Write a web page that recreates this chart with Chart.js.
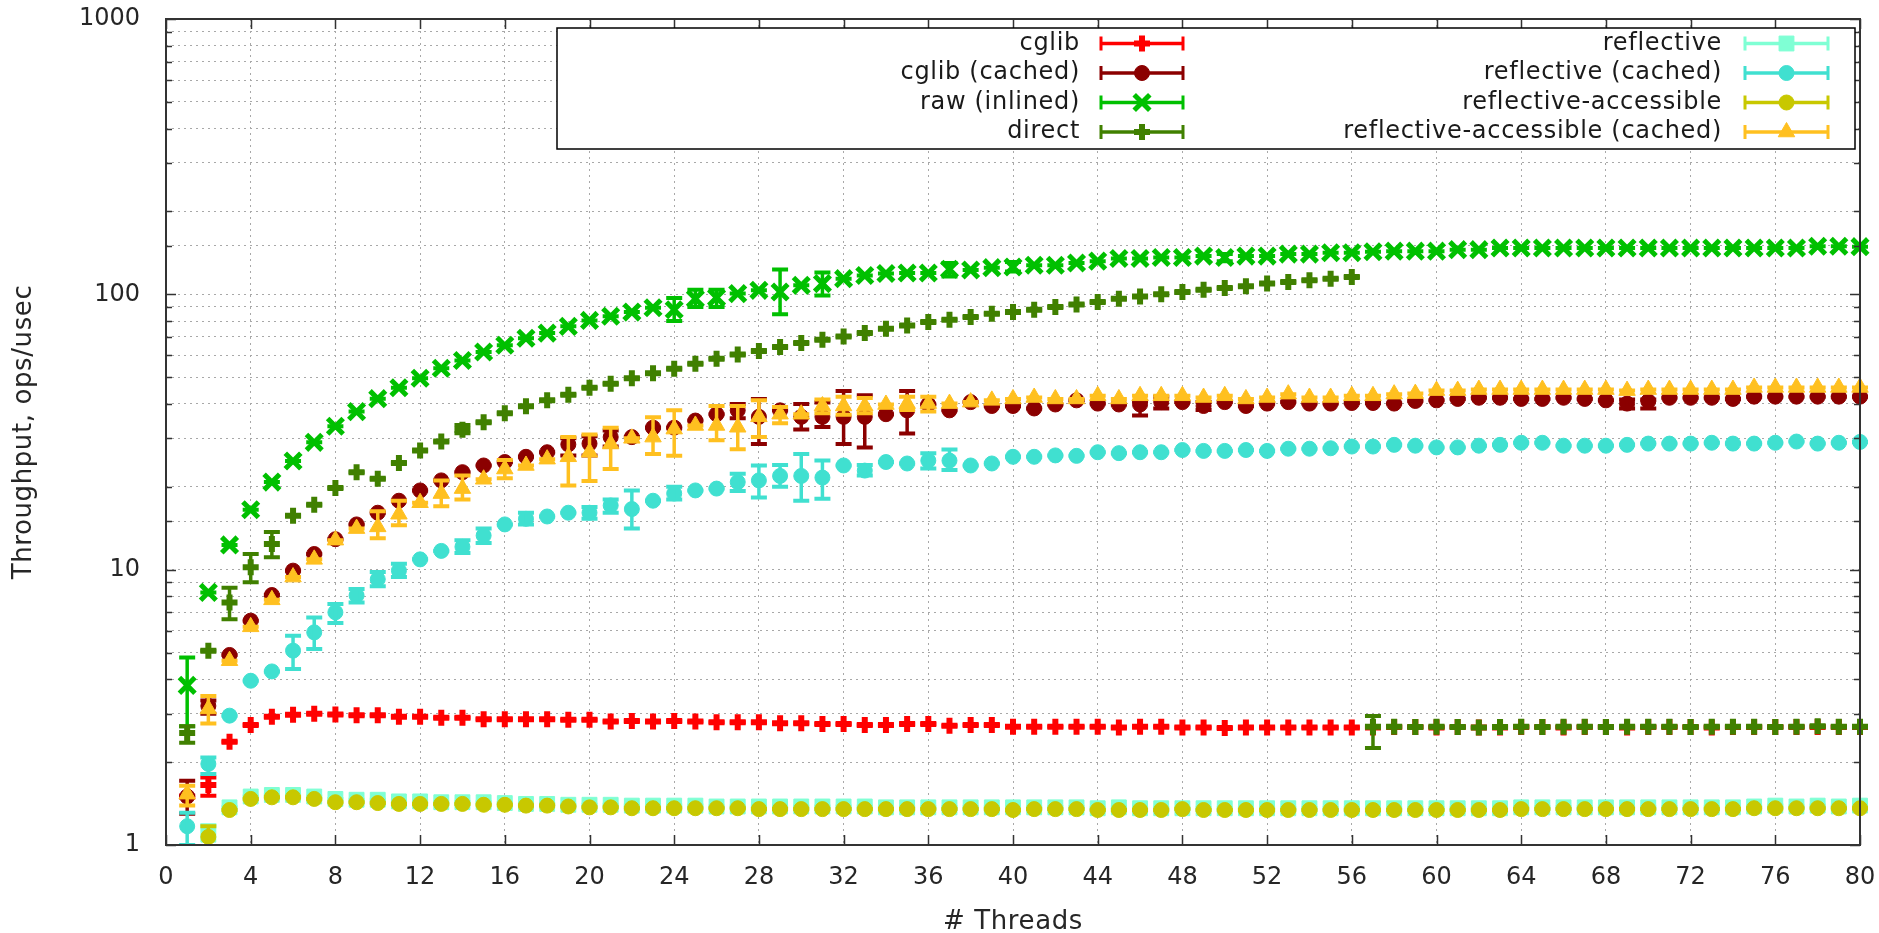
<!DOCTYPE html>
<html><head><meta charset="utf-8">
<script src="https://cdn.jsdelivr.net/npm/chart.js@4.4.1/dist/chart.umd.min.js"></script>
<style>html,body{margin:0;padding:0;background:#fff;}canvas{display:block;}</style>
</head><body>
<canvas id="c" width="1879" height="933"></canvas>
<script>
const threads = [1,2,3,4,5,6,7,8,9,10,11,12,13,14,15,16,17,18,19,20,21,22,23,24,25,26,27,28,29,30,31,32,33,34,35,36,37,38,39,40,41,42,43,44,45,46,47,48,49,50,51,52,53,54,55,56,57,58,59,60,61,62,63,64,65,66,67,68,69,70,71,72,73,74,75,76,77,78,79,80];
const xTicks = [0,4,8,12,16,20,24,28,32,36,40,44,48,52,56,60,64,68,72,76,80];
const yLabels = [1,10,100,1000];

const cglib = [1.5,1.65,2.37,2.73,2.92,2.97,3.0,2.98,2.96,2.96,
 2.92,2.92,2.9,2.9,2.86,2.86,2.86,2.86,2.85,2.85,
 2.81,2.82,2.81,2.82,2.81,2.79,2.79,2.79,2.77,2.77,
 2.75,2.75,2.73,2.73,2.75,2.75,2.71,2.73,2.73,2.69,
 2.69,2.69,2.69,2.69,2.67,2.69,2.69,2.67,2.67,2.66,
 2.67,2.67,2.67,2.67,2.67,2.67,2.67,2.68,2.68,2.67,
 2.68,2.67,2.67,2.68,2.68,2.67,2.68,2.68,2.67,2.68,
 2.68,2.68,2.67,2.68,2.68,2.68,2.68,2.68,2.68,2.68];
const cglibCached = [1.5,3.2,4.9,6.53,8.09,9.92,11.4,12.9,14.6,16.1,
 17.8,19.4,21.1,22.6,23.9,24.6,25.7,26.7,28.5,28.7,
 30.3,30.3,32.8,32.8,34.8,36.7,37.9,35.9,37.9,35.9,
 35.9,35.9,35.9,36.7,37.9,39.8,37.9,40.6,39.3,39.3,
 38.5,39.8,41.2,40.1,39.8,39.8,40.6,40.6,39.3,40.6,
 39.3,40.1,40.6,40.1,40.1,40.3,40.3,40.1,41.0,41.2,
 41.7,42.1,42.1,41.7,41.7,42.1,41.7,41.2,40.1,40.9,
 42.1,42.1,42.1,41.7,42.5,42.5,42.5,42.5,42.5,42.5];
const rawInlined = [3.8,8.27,12.3,16.5,20.8,24.8,29.0,33.2,37.5,41.8,
 45.8,49.6,53.9,57.5,61.7,65.3,69.3,72.3,76.5,80.4,
 83.3,86.2,89.4,87.9,96.4,97.3,100.6,103.4,102,107.8,
 109.4,114,117,119,119.5,119.5,123.4,122.5,125,125.7,
 127.5,127.5,130,132,134.9,134.9,136,136,137.7,136,
 137.7,137.7,140,140,141.6,141.6,142.8,143.5,143.5,143.5,
 145.3,145.3,147.3,147.3,147.3,147.3,147.3,147.3,147.3,147.3,
 147.3,147.3,147.3,147.3,147.3,147.3,147.3,149.5,149.5,149];
const direct = [2.55,5.08,7.6,10.2,12.4,15.7,17.2,19.8,22.6,21.4,
 24.4,27.1,29.2,32.2,34.3,37.0,39.2,41.2,43.2,45.8,
 47.3,49.6,51.7,53.7,56,58.4,60.5,62.2,64.4,66.5,
 68.4,70.3,72.3,75,77.1,79.3,80.9,82.7,85.1,86.2,
 87.9,90,91.9,93.8,96.4,98.3,100,102,104,105.4,
 107,109.4,110.9,112.5,114,115.6,2.69,2.69,2.68,2.69,
 2.68,2.67,2.68,2.69,2.68,2.69,2.69,2.68,2.69,2.69,
 2.69,2.68,2.69,2.69,2.69,2.68,2.69,2.70,2.69,2.69];
const reflective = [null,1.09,1.37,1.5,1.52,1.52,1.5,1.47,1.46,1.46,
 1.44,1.44,1.43,1.43,1.43,1.42,1.41,1.41,1.4,1.4,
 1.4,1.39,1.39,1.39,1.39,1.38,1.38,1.38,1.38,1.38,
 1.38,1.38,1.38,1.37,1.37,1.37,1.37,1.37,1.37,1.37,
 1.37,1.37,1.37,1.36,1.37,1.36,1.36,1.36,1.36,1.36,
 1.36,1.36,1.36,1.36,1.36,1.36,1.36,1.36,1.36,1.36,
 1.36,1.36,1.36,1.37,1.37,1.37,1.37,1.37,1.37,1.37,
 1.37,1.37,1.37,1.37,1.38,1.39,1.38,1.39,1.38,1.39];
const reflectiveCached = [1.17,1.97,2.95,3.95,4.27,5.08,5.92,7.0,8.06,9.23,
 9.92,10.9,11.7,12.1,13.3,14.6,15.3,15.6,16.1,16.1,
 17.1,16.6,17.8,18.9,19.4,19.7,20.8,21.1,21.9,21.9,
 21.6,23.9,22.9,24.6,24.3,24.9,24.9,23.9,24.3,25.7,
 25.7,26.0,25.9,26.7,26.5,26.7,26.7,27.2,27.0,27.0,
 27.2,27.0,27.5,27.5,27.6,28.0,28.0,28.4,28.2,27.8,
 27.8,28.2,28.4,28.9,28.9,28.2,28.2,28.2,28.4,28.7,
 28.7,28.7,28.9,28.7,28.7,28.9,29.2,28.7,28.9,29.1];
const reflAccessible = [null,1.07,1.34,1.47,1.49,1.49,1.47,1.43,1.43,1.42,
 1.41,1.41,1.41,1.41,1.4,1.4,1.39,1.39,1.38,1.37,
 1.37,1.36,1.36,1.36,1.36,1.36,1.36,1.35,1.35,1.35,
 1.35,1.35,1.35,1.35,1.35,1.35,1.35,1.35,1.35,1.34,
 1.35,1.35,1.35,1.34,1.34,1.34,1.34,1.35,1.34,1.34,
 1.34,1.34,1.34,1.34,1.34,1.34,1.34,1.34,1.34,1.34,
 1.34,1.34,1.34,1.35,1.35,1.35,1.35,1.35,1.35,1.35,
 1.35,1.35,1.35,1.35,1.36,1.36,1.36,1.36,1.36,1.36];
const reflAccessibleCached = [1.53,3.12,4.67,6.2,7.77,9.4,10.9,12.8,14.1,14.3,
 15.9,17.5,18.9,19.7,21.3,23.2,23.9,25.2,25.7,26.7,
 28.6,30,30.3,32.4,33.4,33.4,32.9,35.9,36.7,36.7,
 39.3,39.3,39.3,39.8,40.1,40.1,40.1,40.6,41.2,41.7,
 42.2,41.7,41.7,42.8,41.7,42.8,42.8,42.8,42.2,42.8,
 41.7,42.2,43.4,42.2,42.2,42.8,42.8,43.4,43.6,44.7,
 44.7,45.1,45.1,45.1,45.1,45.1,45.1,45.1,44.7,45.1,
 45.1,45.1,45.1,45.1,45.9,45.9,45.9,45.9,45.9,45.9];

// visible error bars: thread -> [low, high]
const cglibErr = {2:[1.51,1.76]};
const cglibCachedErr = {1:[1.3,1.71],2:[3.0,3.35],19:[26,30],20:[26,30.5],21:[28,32],27:[35.5,40],28:[28.6,41.7],30:[32.3,40],31:[33,40.5],32:[28.6,44.6],33:[27.8,43],35:[31.2,44.6],46:[36.3,41],47:[38.5,42.5],49:[38,40.6],69:[38.5,41.5],70:[38.5,41.5]};
const rawErr = {1:[2.7,4.8],24:[80,97],25:[90,104],26:[90,104],29:[84.6,123],31:[99,120],37:[116,130],40:[121,131],50:[132,140]};
const directErr = {1:[2.35,2.7],3:[6.6,8.6],4:[9.0,11.4],5:[11.1,13.7],14:[31.3,33.5],57:[2.25,2.94]};
const reflErr = {2:[0.98,1.18]};
const reflCachedErr = {1:[1.0,1.31],2:[1.81,2.08],6:[4.36,5.75],7:[5.15,6.7],8:[6.4,7.5],9:[7.6,8.5],10:[8.7,9.8],11:[9.4,10.5],14:[11.5,12.8],15:[12.5,14.1],17:[14.6,16.1],20:[15.3,16.9],21:[16.1,18],22:[14.1,19.4],24:[18,20],27:[19.3,22.3],28:[18.3,23.9],29:[20,24],30:[17.8,26.3],31:[18.1,24.9],33:[22,24],36:[23.3,26.5],37:[23,27.3]};
const raErr = {2:[0.97,1.17]};
const raCachedErr = {1:[1.39,1.64],2:[2.76,3.48],10:[13.0,16.3],11:[14.5,17.8],13:[17.0,21.1],14:[18,22],16:[21.5,25],19:[20.2,30.3],20:[21,31],21:[23.2,32.8],23:[26.3,35.8],24:[25.9,37.9],26:[29.5,39.3],27:[27.4,39.3],28:[30.3,41.2],29:[34,39],31:[37,41.5],32:[36.5,42.5],33:[37,42],35:[38,42.5],36:[37.5,42.5]};

const names = ['cglib','cglib (cached)','raw (inlined)','direct','reflective','reflective (cached)','reflective-accessible','reflective-accessible (cached)'];
const valueSets = [cglib,cglibCached,rawInlined,direct,reflective,reflectiveCached,reflAccessible,reflAccessibleCached];
const errSets = [cglibErr,cglibCachedErr,rawErr,directErr,reflErr,reflCachedErr,raErr,raCachedErr];
const colors = ['#ff0000','#8b0000','#00c000','#408000','#7fffd4','#40e0d0','#c8c800','#ffc020'];
const styles = [
  {s:'cross',r:8,bw:6},{s:'circle',r:7.5,bw:1},{s:'crossRot',r:11,bw:5},{s:'cross',r:8,bw:6},
  {s:'rect',r:10.5,bw:1},{s:'circle',r:7.5,bw:1},{s:'circle',r:7.5,bw:1},{s:'triangle',r:9.5,bw:1}
];

const FONT = 'DejaVu Sans';
Chart.defaults.font.family = FONT;

const datasets = names.map((name, i) => {
  const vals = valueSets[i], err = errSets[i];
  const data = [];
  threads.forEach((t, k) => {
    if (vals[k] == null) return;
    const e = err[t];
    data.push({x: t, y: vals[k], lo: e ? e[0] : vals[k], hi: e ? e[1] : vals[k]});
  });
  return {
    label: name, data, order: names.length - i,
    showLine: false,
    pointStyle: styles[i].s, pointRadius: styles[i].r, pointBorderWidth: styles[i].bw,
    pointHoverRadius: styles[i].r,
    backgroundColor: colors[i], borderColor: colors[i],
    clip: {left: 20, top: 20, right: 20, bottom: 6}
  };
});

const errorBars = {
  id: 'errorBars',
  afterDatasetDraw(chart, args) {
    const ds = chart.data.datasets[args.index];
    const xs = chart.scales.x, ys = chart.scales.y, a = chart.chartArea, ctx = chart.ctx;
    ctx.save();
    ctx.beginPath(); ctx.rect(a.left - 20, a.top, a.right - a.left + 40, a.bottom - a.top); ctx.clip();
    ctx.strokeStyle = ds.borderColor; ctx.lineCap = 'butt';
    ds.data.forEach(p => {
      const x = xs.getPixelForValue(p.x);
      const yl = ys.getPixelForValue(p.lo), yh = ys.getPixelForValue(p.hi);
      ctx.lineWidth = 3.5;
      ctx.beginPath(); ctx.moveTo(x, yl); ctx.lineTo(x, yh); ctx.stroke();
      ctx.lineWidth = 4;
      ctx.beginPath();
      ctx.moveTo(x - 8, yl); ctx.lineTo(x + 8, yl);
      ctx.moveTo(x - 8, yh); ctx.lineTo(x + 8, yh);
      ctx.stroke();
    });
    ctx.restore();
  }
};

const frame = {
  id: 'frame',
  afterDatasetsDraw(chart) {
    const xs = chart.scales.x, ys = chart.scales.y, a = chart.chartArea, ctx = chart.ctx;
    ctx.save();
    ctx.strokeStyle = '#333'; ctx.lineWidth = 1.5;
    ctx.beginPath();
    xTicks.forEach(v => {
      const x = Math.round(xs.getPixelForValue(v)) + 0.5;
      ctx.moveTo(x, a.bottom); ctx.lineTo(x, a.bottom - 10);
      ctx.moveTo(x, a.top); ctx.lineTo(x, a.top + 10);
    });
    ys.ticks.forEach(t => {
      const major = yLabels.includes(t.value);
      const len = major ? 10 : 6;
      const y = Math.round(ys.getPixelForValue(t.value)) + 0.5;
      ctx.moveTo(a.left, y); ctx.lineTo(a.left + len, y);
      ctx.moveTo(a.right, y); ctx.lineTo(a.right - len, y);
    });
    ctx.stroke();
    ctx.lineWidth = 2;
    ctx.strokeRect(a.left, a.top, a.right - a.left, a.bottom - a.top);
    ctx.restore();
  },
  afterDraw(chart) {
    const ctx = chart.ctx, a = chart.chartArea;
    ctx.save();
    ctx.fillStyle = '#262626';
    ctx.font = '26px "' + FONT + '"';
    ctx.letterSpacing = '0.6px';
    ctx.textAlign = 'center'; ctx.textBaseline = 'middle';
    ctx.fillText('# Threads', (a.left + a.right) / 2, 922);
    ctx.translate(24, (a.top + a.bottom) / 2);
    ctx.rotate(-Math.PI / 2);
    ctx.fillText('Throughput, ops/usec', 0, 0);
    ctx.restore();

    // legend
    ctx.save();
    ctx.fillStyle = '#fff';
    ctx.fillRect(557, 28, 1298, 121);
    ctx.strokeStyle = '#000'; ctx.lineWidth = 1.5;
    ctx.strokeRect(557, 28, 1298, 121);
    ctx.font = '24px "' + FONT + '"';
    ctx.letterSpacing = '0.7px';
    ctx.textAlign = 'right'; ctx.textBaseline = 'middle';
    const rows = [43.5, 73, 102.5, 132];
    const cols = [{tx: 1080, l: 1101, r: 1183}, {tx: 1722, l: 1745, r: 1828}];
    names.forEach((n, i) => {
      const c = cols[Math.floor(i / 4)], y = rows[i % 4];
      ctx.fillStyle = '#1a1a1a';
      ctx.fillText(n, c.tx, y);
      ctx.strokeStyle = colors[i]; ctx.fillStyle = colors[i];
      ctx.lineWidth = 3.5;
      ctx.beginPath(); ctx.moveTo(c.l, y); ctx.lineTo(c.r, y); ctx.stroke();
      ctx.lineWidth = 3;
      ctx.beginPath();
      ctx.moveTo(c.l, y - 7); ctx.lineTo(c.l, y + 7);
      ctx.moveTo(c.r, y - 7); ctx.lineTo(c.r, y + 7);
      ctx.stroke();
      ctx.lineWidth = styles[i].bw;
      Chart.helpers.drawPoint(ctx, {pointStyle: styles[i].s, radius: styles[i].r, borderWidth: styles[i].bw, rotation: 0}, (c.l + c.r) / 2, y);
    });
    ctx.restore();
  }
};

function zeroPad(s) { s.paddingLeft = 0; s.paddingRight = 0; s.paddingTop = 0; s.paddingBottom = 0; }

new Chart(document.getElementById('c'), {
  type: 'scatter',
  data: {datasets},
  plugins: [errorBars, frame],
  options: {
    responsive: false, animation: false, devicePixelRatio: 1,
    layout: {padding: {left: 0, right: 19, top: 19, bottom: 0}},
    plugins: {legend: {display: false}, tooltip: {enabled: false}},
    events: [],
    scales: {
      x: {
        type: 'linear', min: 0, max: 80,
        afterBuildTicks(s) { s.ticks = xTicks.map(v => ({value: v})); },
        ticks: {font: {size: 24}, color: '#262626', padding: 18, maxRotation: 0, autoSkip: false},
        grid: {color: '#a8a8a8', lineWidth: 1, drawTicks: false},
        border: {display: false, dash: [2, 4]},
        afterFit(s) { s.height = 88; zeroPad(s); }
      },
      y: {
        type: 'logarithmic', min: 1, max: 1000,
        ticks: {
          font: {size: 24}, color: '#262626', padding: 26, autoSkip: false,
          callback: v => yLabels.includes(v) ? String(v) : ''
        },
        grid: {color: '#a8a8a8', lineWidth: 1, drawTicks: false},
        border: {display: false, dash: [2, 4]},
        afterFit(s) { s.width = 166; zeroPad(s); }
      }
    }
  }
});
</script>
</body></html>
